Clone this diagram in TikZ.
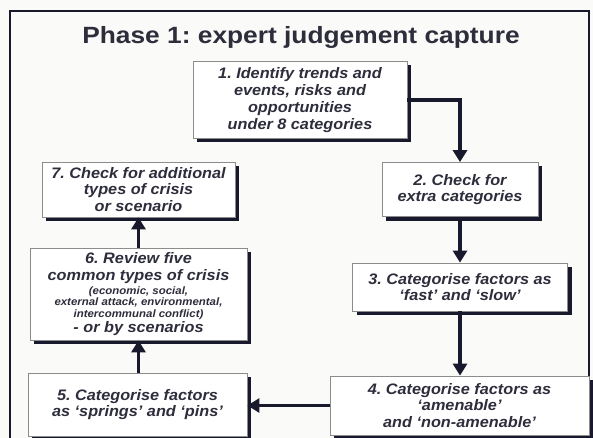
\documentclass[tikz,border=0pt]{standalone}
\usepackage{fontspec}
\setmainfont{Liberation Sans}[FakeStretch=1.07]
\newfontfamily\titlefont{Liberation Sans}[FakeStretch=1.12]
\frenchspacing
\usetikzlibrary{arrows.meta}
\definecolor{bg}{RGB}{250,250,248}
\definecolor{frame}{RGB}{25,25,45}
\definecolor{ink}{RGB}{45,45,60}
\begin{document}
\begin{tikzpicture}[x=1pt,y=-1pt,
  box/.style={draw=black!45,line width=0.8pt,fill=white,align=center,
    inner sep=1pt,font=\fontsize{15.2}{16.8}\selectfont\bfseries\itshape,text=ink,
    preaction={fill=frame,transform canvas={shift={(4pt,-4pt)}}}},
  arr/.style={line width=3.4pt,draw=frame,-{Triangle[width=14pt,length=12pt]}}]
\useasboundingbox (0,0) rectangle (593,438);
\fill[bg] (0,0) rectangle (593,438);
\draw[frame,line width=2pt] (10,11) rectangle (589,450);
\node[font=\titlefont\fontsize{23.5}{26}\selectfont\bfseries\frenchspacing,text=ink] (title) at (301,37) {Phase 1: expert judgement capture};
\node[box,minimum width=214pt,minimum height=77pt] (b1) at (300,100)
  {1. Identify trends and\\events, risks and\\opportunities\\under 8 categories};
\node[box,minimum width=156pt,minimum height=54pt] (b2) at (460,189.5)
  {2. Check for\\extra categories};
\node[box,minimum width=215pt,minimum height=48pt] (b3) at (460,287)
  {3. Categorise factors as\\`fast' and `slow'};
\node[box,minimum width=259pt,minimum height=59pt] (b4) at (459.5,405.5)
  {4. Categorise factors as\\`amenable'\\and `non-amenable'};
\node[box,minimum width=219pt,minimum height=63pt] (b5) at (137.5,404.5)
  {5. Categorise factors\\as `springs' and `pins'};
\node[box,minimum width=217pt,minimum height=92pt] (b6) at (138.5,294)
  {6. Review five\\common types of crisis\\[-3pt]
   {\fontsize{10.7}{10}\selectfont (economic, social,}\\[-5pt]
   {\fontsize{10.7}{10}\selectfont external attack, environmental,}\\[-5pt]
   {\fontsize{10.7}{10}\selectfont intercommunal conflict)}\\[-2pt]
   - or by scenarios};
\node[box,minimum width=193pt,minimum height=55pt] (b7) at (138.5,189.5)
  {7. Check for additional\\types of crisis\\or scenario};
\draw[arr] (b1.east) -| (b2.north);
\draw[arr] (b2.south) -- (b2.south |- b3.north);
\draw[arr] (b3.south) -- (b3.south |- b4.north);
\draw[arr] (b4.west) -- (b4.west -| b5.east);
\draw[arr] (b5.north -| b6.south) -- (b6.south);
\draw[arr] (b6.north) -- (b6.north |- b7.south);
\end{tikzpicture}
\end{document}
